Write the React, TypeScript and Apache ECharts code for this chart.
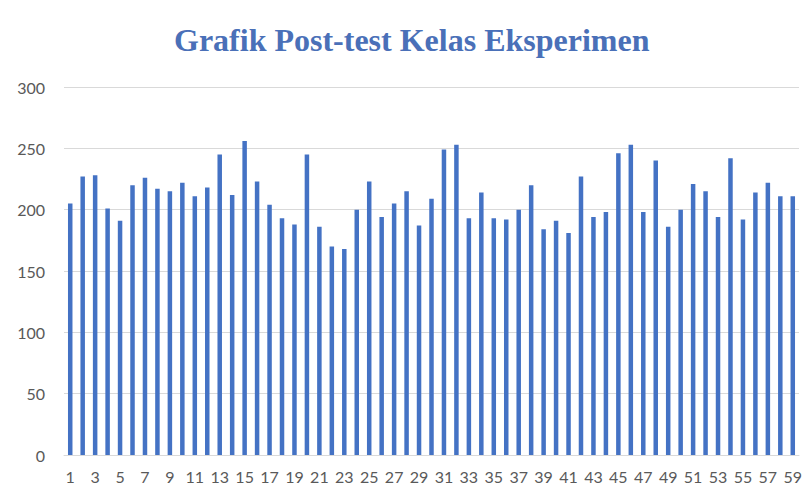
import React, { useEffect, useRef } from "react";
import * as echarts from "echarts";

const categories: string[] = Array.from({ length: 59 }, (_, i) => String(i + 1));
const scores: number[] = [
  205, 227, 228, 201, 191, 220, 226, 217, 215, 222,
  211, 218, 245, 212, 256, 223, 204, 193, 188, 245,
  186, 170, 168, 200, 223, 194, 205, 215, 187, 209,
  249, 253, 193, 214, 193, 192, 200, 220, 184, 191,
  181, 227, 194, 198, 246, 253, 198, 240, 186, 200,
  221, 215, 194, 242, 192, 214, 222, 211, 211,
];
const titleText = "Grafik Post-test Kelas Eksperimen";

export default function App() {
  const ref = useRef<HTMLDivElement>(null);
  useEffect(() => {
    if (!ref.current) return;
    const chart = echarts.init(ref.current, undefined, { renderer: "svg" });
    chart.setOption({
      animation: false,
      backgroundColor: "#ffffff",
      title: {
        text: titleText,
        left: 169,
        top: 19,
        textStyle: {
          fontFamily: "Liberation Serif",
          fontWeight: "bold",
          fontSize: 32,
          color: "#4a70b8",
        },
      },
      grid: { left: 64, right: 11, top: 87, bottom: 36 },
      xAxis: {
        type: "category",
        data: categories,
        axisLine: { lineStyle: { color: "#d9d9d9" } },
        axisTick: { show: false },
        axisLabel: {
          interval: 1,
          color: "#595959",
          fontFamily: "Lato",
          fontSize: 16,
          margin: 13,
        },
      },
      yAxis: {
        type: "value",
        min: 0,
        max: 300,
        interval: 50,
        axisLine: { show: false },
        axisTick: { show: false },
        splitLine: { lineStyle: { color: "#d9d9d9" } },
        axisLabel: {
          color: "#595959",
          fontFamily: "Lato",
          fontSize: 16,
          margin: 19,
        },
      },
      series: [
        {
          type: "bar",
          data: scores,
          barWidth: 4.5,
          itemStyle: { color: "#4472c4" },
        },
      ],
    });
    return () => chart.dispose();
  }, []);
  return <div ref={ref} style={{ width: 810, height: 491, position: "absolute", left: 0, top: 0 }} />;
}
